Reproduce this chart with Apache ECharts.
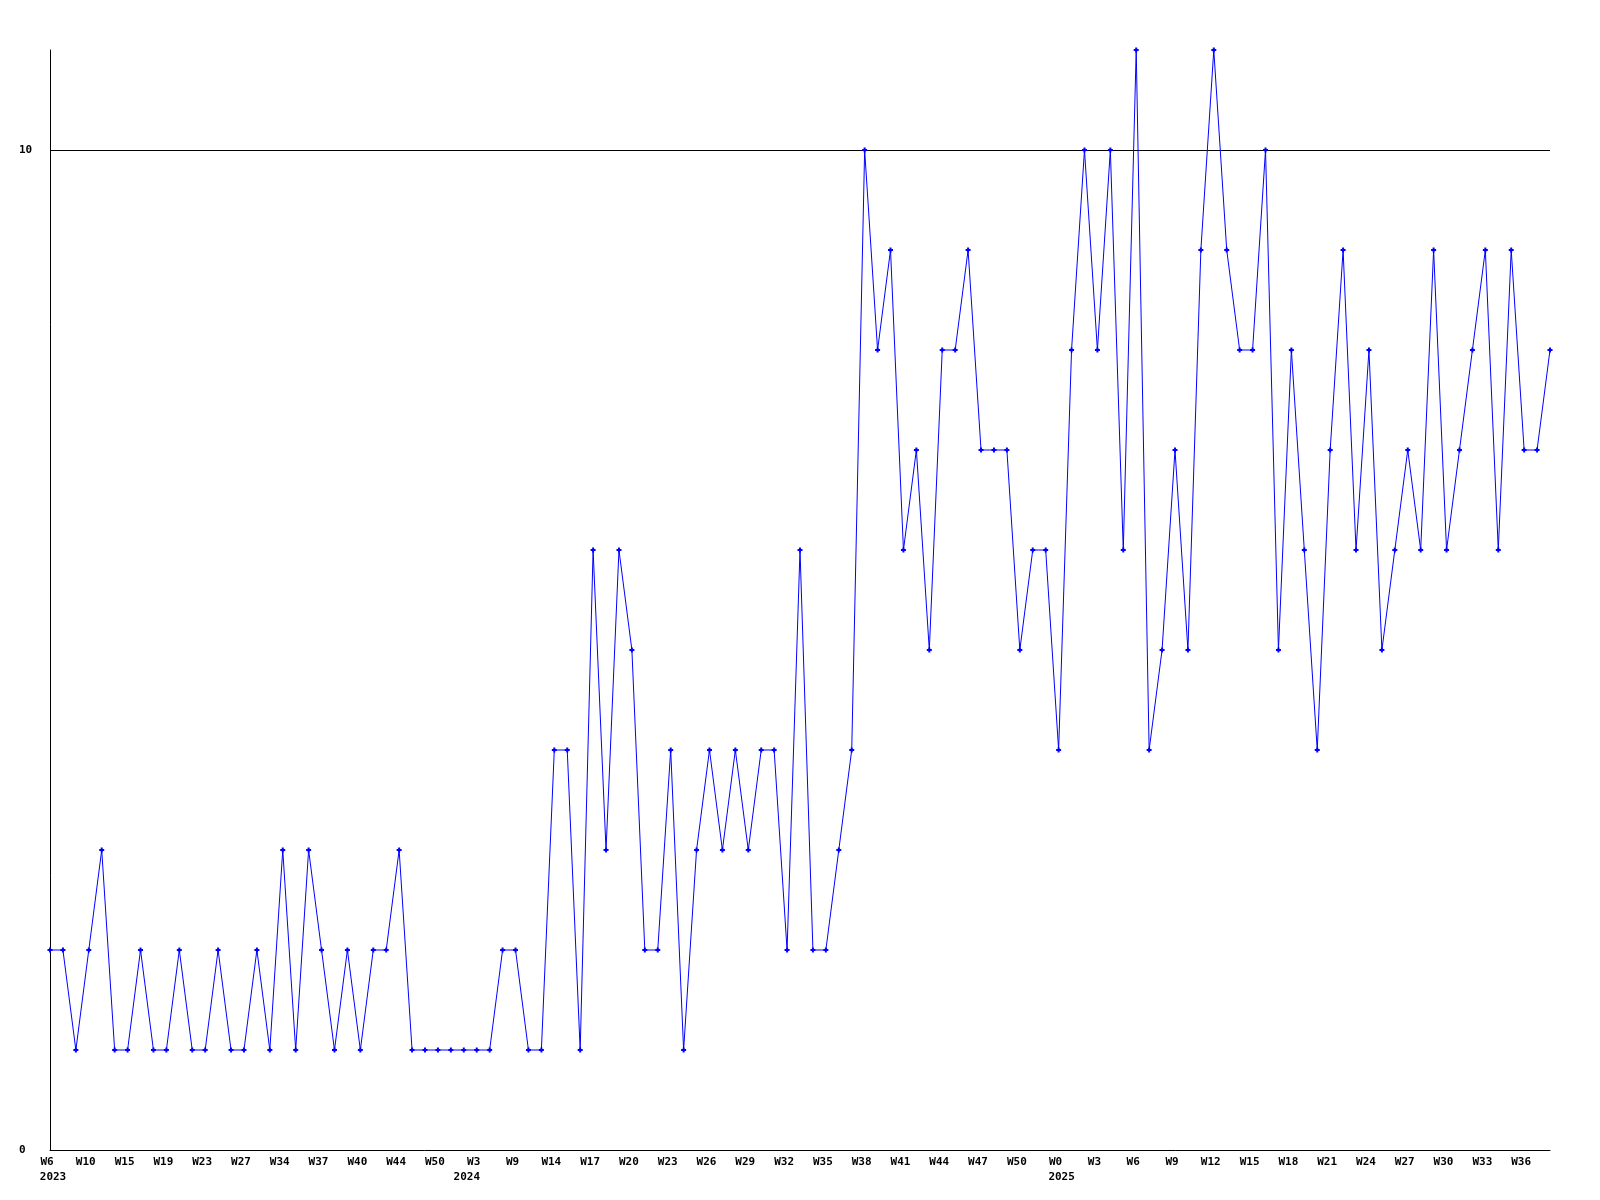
<!DOCTYPE html>
<html>
<head>
<meta charset="utf-8">
<script src="https://cdn.jsdelivr.net/npm/echarts@6/dist/echarts.min.js"></script>
<style>
  html, body { margin: 0; padding: 0; background: #ffffff; }
  #chart { width: 1600px; height: 1200px; }
</style>
</head>
<body>
<div id="chart"></div>
<script>
// Week categories (year + week label)
const categories = [
  '2023 W6','2023 W7','2023 W8','2023 W10','2023 W12','2023 W13','2023 W15','2023 W16','2023 W17',
  '2023 W19','2023 W20','2023 W21','2023 W23','2023 W24','2023 W25','2023 W27','2023 W29','2023 W31',
  '2023 W34','2023 W35','2023 W36','2023 W37','2023 W38','2023 W39','2023 W40','2023 W41','2023 W43',
  '2023 W44','2023 W46','2023 W48','2023 W50','2023 W52',
  '2024 W1','2024 W3','2024 W5','2024 W7','2024 W9','2024 W11','2024 W12','2024 W14','2024 W15','2024 W16',
  '2024 W17','2024 W18','2024 W19','2024 W20','2024 W21','2024 W22','2024 W23','2024 W24','2024 W25',
  '2024 W26','2024 W27','2024 W28','2024 W29','2024 W30','2024 W31','2024 W32','2024 W33','2024 W34',
  '2024 W35','2024 W36','2024 W37','2024 W38','2024 W39','2024 W40','2024 W41','2024 W42','2024 W43',
  '2024 W44','2024 W45','2024 W46','2024 W47','2024 W48','2024 W49','2024 W50','2024 W51','2024 W52',
  '2025 W0','2025 W1','2025 W2','2025 W3','2025 W4','2025 W5','2025 W6','2025 W7','2025 W8',
  '2025 W9','2025 W10','2025 W11','2025 W12','2025 W13','2025 W14','2025 W15','2025 W16','2025 W17',
  '2025 W18','2025 W19','2025 W20','2025 W21','2025 W22','2025 W23','2025 W24','2025 W25','2025 W26',
  '2025 W27','2025 W28','2025 W29','2025 W30','2025 W31','2025 W32','2025 W33','2025 W34','2025 W35',
  '2025 W36','2025 W37','2025 W38'
];

// Weekly counts
const values = [
  2,2,1,2,3,1,1,2,1,
  1,2,1,1,2,1,1,2,1,
  3,1,3,2,1,2,1,2,2,
  3,1,1,1,1,1,
  1,1,2,2,1,1,4,4,1,
  6,3,6,5,2,2,4,1,3,
  4,3,4,3,4,4,2,6,2,
  2,3,4,10,8,9,6,7,5,
  8,8,9,7,7,7,5,6,6,
  4,8,10,8,10,6,11,4,5,
  7,5,9,11,9,8,8,10,5,
  8,6,4,7,9,6,8,5,6,
  7,6,9,6,7,8,9,6,9,
  7,7,8
];

// Y tick labels shown and the reference line
const yTicks = [0, 10];
const yMax = 11;

const chart = echarts.init(document.getElementById('chart'), null, { renderer: 'canvas' });

const monoFont = '"DejaVu Sans Mono", "Liberation Mono", monospace';

function yearOf(i) { return categories[i].split(' ')[0]; }
function weekOf(i) { return categories[i].split(' ')[1]; }
function isFirstOfYear(i) { return i === 0 || yearOf(i) !== yearOf(i - 1); }

const labelStyle = {
  color: '#000000',
  fontFamily: monoFont,
  fontWeight: 'bold',
  fontSize: 11
};

chart.setOption({
  animation: false,
  backgroundColor: '#ffffff',
  grid: { left: 50, right: 50, top: 50, bottom: 50, containLabel: false },
  xAxis: [{
    type: 'category',
    data: categories,
    boundaryGap: false,
    axisLine: { show: true, lineStyle: { color: '#000000', width: 1 } },
    axisTick: { show: false },
    splitLine: { show: false },
    axisLabel: Object.assign({
      interval: 2,
      margin: 7,
      padding: [0, 6, 0, 0],
      formatter: function (val, idx) { return weekOf(idx); }
    }, labelStyle)
  }, {
    type: 'category',
    data: categories,
    position: 'bottom',
    offset: 15,
    boundaryGap: false,
    axisLine: { show: false },
    axisTick: { show: false },
    splitLine: { show: false },
    axisLabel: Object.assign({
      interval: function (idx) { return isFirstOfYear(idx); },
      margin: 7,
      padding: [0, 0, 0, 6],
      formatter: function (val, idx) { return yearOf(idx); }
    }, labelStyle)
  }],
  yAxis: {
    type: 'value',
    min: 0,
    max: yMax,
    interval: 10,
    axisLine: { show: true, lineStyle: { color: '#000000', width: 1 } },
    axisTick: { show: false },
    splitLine: { show: false },
    axisLabel: Object.assign({
      margin: 31,
      align: 'left',
      formatter: function (v) { return yTicks.indexOf(v) >= 0 ? String(v) : ''; }
    }, labelStyle)
  },
  series: [{
    type: 'line',
    xAxisIndex: 0,
    data: values,
    showAllSymbol: true,
    symbol: 'path://M1.5,0H3.5V1.5H5V3.5H3.5V5H1.5V3.5H0V1.5H1.5Z',
    symbolSize: 5,
    lineStyle: { color: '#0000ff', width: 1 },
    itemStyle: { color: '#0000ff' },
    emphasis: { disabled: true },
    z: 3,
    markLine: {
      silent: true,
      symbol: 'none',
      label: { show: false },
      lineStyle: { color: '#000000', width: 1, type: 'solid' },
      data: [{ yAxis: yTicks[1] }],
      z: 1
    }
  }]
});
</script>
</body>
</html>
